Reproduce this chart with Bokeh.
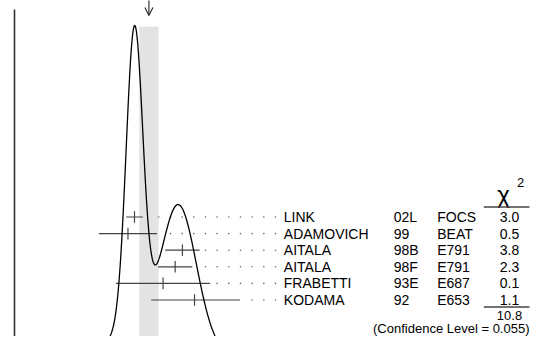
import numpy as np
from bokeh.plotting import figure
from bokeh.models import Range1d, Arrow, OpenHead
from bokeh.core.properties import value
from bokeh.embed import file_html
from bokeh.resources import INLINE

# ---- data (form-factor ratio measurements) ----
names = ["LINK", "ADAMOVICH", "AITALA", "AITALA", "FRABETTI", "KODAMA"]
years = ["02L", "99", "98B", "98F", "93E", "92"]
exps = ["FOCS", "BEAT", "E791", "E791", "E687", "E653"]
vals = [1.504, 1.45, 1.90, 1.84, 1.74, 2.00]
err_lo = [0.069, 0.240, 0.142, 0.142, 0.389, 0.358]
err_hi = [0.069, 0.240, 0.142, 0.142, 0.389, 0.376]
chi2_labels = ["3.0", "0.5", "3.8", "2.3", "0.1", "1.1"]
chi2_total = "10.8"
cl_label = "(Confidence Level = 0.055)"

vals_a = np.array(vals)
lo_a = np.array(err_lo)
hi_a = np.array(err_hi)
sig = 0.5 * (lo_a + hi_a)
w = 1.0 / sig**2
mean = np.sum(w * vals_a) / np.sum(w)
err = 1.0 / np.sqrt(np.sum(w))
chi2 = np.sum(w * (vals_a - mean) ** 2)
err_s = err * np.sqrt(chi2 / (len(vals) - 1))

# ---- layout helpers (screen px -> data) ----
PXU = 121.0          # px per unit on x
def fx(px):
    return vals[0] + (px - 134.0) / PXU
def fy(py):
    return (py - 216.5) / 16.6

W, H = 530, 336
p = figure(width=W, height=H, output_backend="svg", toolbar_location=None,
           x_range=Range1d(fx(0), fx(W)), y_range=Range1d(fy(H), fy(0)),
           min_border=0, outline_line_color=None,
           x_axis_location=None, y_axis_location=None)
p.grid.visible = False
p.background_fill_color = "white"
p.border_fill_color = "white"

# ideogram
xs = np.linspace(fx(0), fx(W), 1200)
ideo = np.zeros_like(xs)
for c, l, h, s in zip(vals_a, lo_a, hi_a, sig):
    sd = np.where(xs < c, l, h)
    ideo += (1.0 / s**2) * np.exp(-(xs - c) ** 2 / (2 * sd**2))
peak = ideo.max()
k = 342.0 / peak
p.extra_y_ranges = {"ideo": Range1d(start=(367 - H) / k, end=367 / k)}

# average band
p.quad(left=[mean - err_s], right=[mean + err_s], bottom=[0], top=[peak * 0.997],
       y_range_name="ideo", fill_color="#e3e3e3", line_color=None)

# frame line on the left
p.segment(x0=[fx(14)], y0=[fy(9)], x1=[fx(14)], y1=[fy(360)],
          line_color="#333333", line_width=1.6)

# dotted leaders
step = 11.67 / PXU
dx, dy = [], []
for i, hv in enumerate(vals_a + hi_a):
    for kk in range(0, 14):
        xk = fx(275) - kk * step
        if xk > hv + 5.0 / PXU:
            dx.append(xk)
            dy.append(i)
p.scatter(dx, dy, size=1.6, marker="circle", fill_color="#666666", line_color=None)

rows = list(range(len(vals)))
# error bars
p.segment(x0=list(vals_a - lo_a), y0=rows, x1=list(vals_a + hi_a), y1=rows,
          line_color="#444444", line_width=1.2)
p.segment(x0=vals, y0=[r - 0.35 for r in rows], x1=vals, y1=[r + 0.35 for r in rows],
          line_color="#444444", line_width=1.2)

# curve
p.line(xs, ideo, y_range_name="ideo", line_color="black", line_width=1.3)

# arrow at the average
p.add_layout(Arrow(end=OpenHead(size=8, line_width=1.1, line_color="#222222"),
                   x_start=mean, y_start=fy(-6), x_end=mean, y_end=fy(15),
                   line_color="#222222", line_width=1.1))

font = value("Liberation Sans")
def txt(x, y, t, size="14px", align="left"):
    p.text(x=x, y=y, text=t, text_font=font, text_font_size=size,
           text_align=align, text_baseline="middle", text_color="black")

txt([fx(283.3)] * 6, rows, names)
txt([fx(393.3)] * 6, rows, years)
txt([fx(436.7)] * 6, rows, exps)
txt([fx(509)] * 6, rows, chi2_labels, align="center")

# chi^2 header
txt([fx(503)], [fy(194)], ["χ"], size="24px", align="center")
txt([fx(520)], [fy(182)], ["2"], size="13px", align="center")
p.segment(x0=[fx(483.3)] * 2, y0=[fy(206.5), fy(306.5)], x1=[fx(529)] * 2,
          y1=[fy(206.5), fy(306.5)], line_color="#444444", line_width=1.5)
txt([fx(509)], [fy(315)], [chi2_total], size="13px", align="center")
txt([fx(529)], [fy(327.5)], [cl_label], size="13px", align="right")

open("out.html", "w").write(file_html(p, INLINE))
